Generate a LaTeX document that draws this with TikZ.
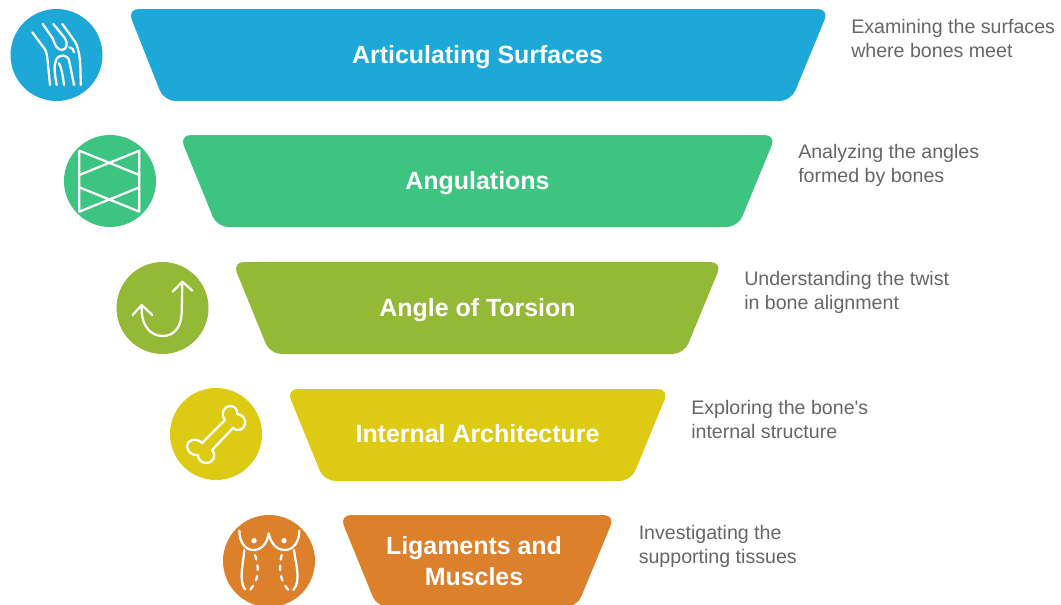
\documentclass[tikz,border=0pt]{standalone}
\usepackage{fontspec}
\setmainfont{Liberation Sans}
\newfontfamily\descfont{Liberation Sans}
\definecolor{cblue}{HTML}{1DA8D8}
\definecolor{cgreen}{HTML}{3CC480}
\definecolor{colive}{HTML}{93B936}
\definecolor{cyellow}{HTML}{DDCB13}
\definecolor{corange}{HTML}{DD802C}
\definecolor{cdesc}{HTML}{666666}
\tikzset{
  funnel/.style={rounded corners=8.5pt},
  title/.style={text=white,font=\fontsize{18.7}{23.5}\selectfont\bfseries,align=center,inner sep=0pt},
  desc/.style={text=cdesc,font=\descfont\fontsize{14.7}{18}\selectfont,align=left,anchor=west,inner sep=0pt},
  badge/.style={circle,minimum size=69pt,inner sep=0pt},
  ico/.style={draw=white,line width=1.7pt,line cap=round,line join=round},
  zoomed/.style={x=0.25pt,y=-0.25pt}
}
\begin{document}
\begin{tikzpicture}[x=0.75pt,y=-0.75pt]
\useasboundingbox (0,0) rectangle (1061,604);
\clip (0,0) rectangle (1061,604);
% funnels
\fill[cblue,funnel] (127.5,9) -- (829,9) -- (791,101) -- (164,101) -- cycle;
\fill[cgreen,funnel] (179.5,135) -- (776,135) -- (738,227) -- (217,227) -- cycle;
\fill[colive,funnel] (232.5,262) -- (722,262) -- (684,354) -- (270,354) -- cycle;
\fill[cyellow,funnel] (286.5,389) -- (669,389) -- (631,481) -- (324,481) -- cycle;
\fill[corange,funnel] (339.5,515) -- (615,515) -- (577,607) -- (377,607) -- cycle;
% titles
\node[title] (t1) at (477.5,57) {Articulating Surfaces};
\node[title] (t2) at (477.5,183) {Angulations};
\node[title] (t3) at (477.5,310) {Angle of Torsion};
\node[title] (t4) at (477.5,434) {Internal Architecture};
\node[title] (t5) at (474,561) {Ligaments and\\Muscles};
% descriptions
\node[desc] (d1) at (851,38.5) {Examining the surfaces\\where bones meet};
\node[desc] (d2) at (798,165.5) {Analyzing the angles\\formed by bones};
\node[desc] (d3) at (744,292.5) {Understanding the twist\\in bone alignment};
\node[desc] (d4) at (691,419) {Exploring the bone's\\internal structure};
\node[desc] (d5) at (638.5,546) {Investigating the\\supporting tissues};
% badges
\node[badge,fill=cblue] (b1) at (56.5,55) {};
\node[badge,fill=cgreen] (b2) at (110,181) {};
\node[badge,fill=colive] (b3) at (162.5,308) {};
\node[badge,fill=cyellow] (b4) at (216,434) {};
\node[badge,fill=corange] (b5) at (269,561) {};
% knee
\begin{scope}[zoomed]
\draw[ico] (97,97) -- (135,148) .. controls (142,160) and (142,175) .. (150,255);
\draw[ico] (128,72) -- (158,115) .. controls (165,135) and (170,148) .. (185,150) .. controls (200,150) and (205,130) .. (195,115) -- (160,72);
\draw[ico] (187,72) -- (225,125) .. controls (240,150) and (242,190) .. (242,255);
\draw[ico] (170,255) .. controls (165,225) and (160,200) .. (168,180) .. controls (178,160) and (205,162) .. (208,185) -- (222,255);
\draw[ico] (192,255) .. controls (188,225) and (185,205) .. (177,190);
\draw[ico] (208,142) .. controls (218,145) and (222,150) .. (222,157);
\end{scope}
% angulations
\begin{scope}[zoomed]
\draw[ico] (238,452) -- (238,635) (418,452) -- (418,635)
  (238,452) -- (418,525) (418,452) -- (238,525)
  (238,562) -- (418,635) (418,562) -- (238,635);
\end{scope}
% torsion
\begin{scope}[shift={(100,250)},zoomed]
\draw[ico] (247,95) -- (245,190) .. controls (243,232) and (222,258) .. (188,258) .. controls (150,258) and (122,225) .. (125,167);
\draw[ico] (218,125) -- (247,95) -- (277,122);
\draw[ico] (98,195) -- (125,165) -- (157,195);
\end{scope}
% bone
\begin{scope}[shift={(216,434)}]
\draw[ico] (9,-14) .. controls (4,-20) and (8,-28) .. (14,-28) .. controls (19,-28) and (22,-24) .. (21,-20)
  .. controls (26,-20) and (30,-15) .. (29,-10) .. controls (28,-4) and (21,-2) .. (17,-6)
  -- (-4,16) .. controls (1,22) and (-3,29) .. (-10,29) .. controls (-15,29) and (-18,25) .. (-18,21)
  .. controls (-23,22) and (-29,18) .. (-29,12) .. controls (-29,6) and (-20,3) .. (-14,9) -- cycle;
\end{scope}
% torso
\begin{scope}[shift={(210,500)},zoomed]
\draw[ico] (88,92) .. controls (88,125) and (105,150) .. (130,150) .. controls (155,150) and (172,130) .. (176,100)
  .. controls (182,130) and (200,150) .. (225,150) .. controls (250,150) and (268,125) .. (268,92);
\draw[ico] (103,150) .. controls (100,190) and (85,240) .. (105,268);
\draw[ico] (252,150) .. controls (256,190) and (275,240) .. (250,270);
\draw[ico,dash pattern=on 3.5pt off 4.5pt] (135,165) .. controls (150,210) and (145,240) .. (120,270);
\draw[ico,dash pattern=on 3.5pt off 4.5pt] (215,165) .. controls (205,210) and (210,240) .. (235,270);
\fill[white] (132,122) circle (8);
\fill[white] (222,122) circle (8);
\end{scope}
\end{tikzpicture}
\end{document}
